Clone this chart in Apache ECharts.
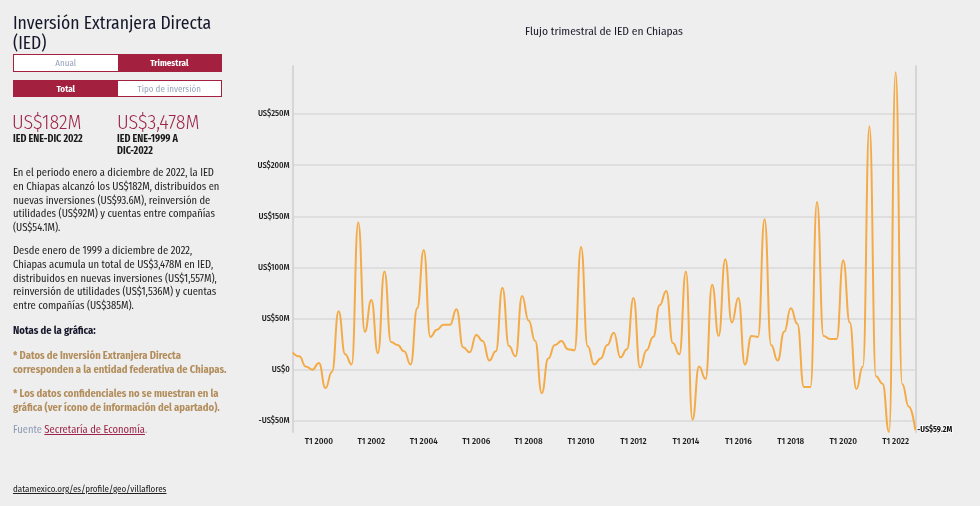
<!DOCTYPE html>
<html><head><meta charset="utf-8">
<script src="https://cdn.jsdelivr.net/npm/echarts@6/dist/echarts.min.js"></script>
<style>
html,body{margin:0;padding:0;background:#eeeeee;}
body{width:980px;height:506px;position:relative;overflow:hidden;font-family:"Fira Sans Condensed","Liberation Sans Narrow","Roboto Condensed",Roboto,sans-serif;}
#chart{position:absolute;left:0;top:0;width:980px;height:506px;}
#panel{position:absolute;left:0;top:0;width:240px;height:506px;color:#1f2430;}
.abs{position:absolute;white-space:nowrap;}
.title{left:13px;top:14px;font-size:17.6px;line-height:20px;color:#16172b;}
.btns{left:13px;width:209px;height:17px;border:1px solid #a3213f;box-sizing:border-box;display:flex;font-size:9px;font-weight:bold;}
.btns div{flex:1;display:flex;align-items:center;justify-content:center;}
.on{background:#a3213f;color:#fff;}
.off{background:#fff;color:#9aa6bd;font-weight:normal;}
.big{font-size:20px;color:#9d2449;font-weight:300;line-height:20px;}
.lab{font-size:10px;font-weight:bold;line-height:12px;color:#1b1b1b;}
.p{left:13px;font-size:10.5px;line-height:13.8px;color:#222;}
.note{left:13px;font-size:10.5px;line-height:13.8px;color:#b38e5d;font-weight:bold;}
</style></head><body>
<div id="chart"></div>
<div id="panel">
  <div class="abs title">Inversión Extranjera Directa<br>(IED)</div>
  <div class="abs btns" style="top:54px;height:18px"><div class="off">Anual</div><div class="on">Trimestral</div></div>
  <div class="abs btns" style="top:80px"><div class="on">Total</div><div class="off">Tipo de inversión</div></div>
  <div class="abs big" style="left:12px;top:112px">US$182M</div>
  <div class="abs big" style="left:117px;top:112px">US$3,478M</div>
  <div class="abs lab" style="left:13px;top:133px">IED ENE-DIC 2022</div>
  <div class="abs lab" style="left:117px;top:133px">IED ENE-1999 A<br>DIC-2022</div>
  <div class="abs p" style="top:166px">En el periodo enero a diciembre de 2022, la IED<br>en Chiapas alcanzó los US$182M, distribuidos en<br>nuevas inversiones (US$93.6M), reinversión de<br>utilidades (US$92M) y cuentas entre compañías<br>(US$54.1M).</div>
  <div class="abs p" style="top:244px">Desde enero de 1999 a diciembre de 2022,<br>Chiapas acumula un total de US$3,478M en IED,<br>distribuidos en nuevas inversiones (US$1,557M),<br>reinversión de utilidades (US$1,536M) y cuentas<br>entre compañías (US$385M).</div>
  <div class="abs p" style="top:324px;font-weight:bold;color:#16172b">Notas de la gráfica:</div>
  <div class="abs note" style="top:349px">* Datos de Inversión Extranjera Directa<br>corresponden a la entidad federativa de Chiapas.</div>
  <div class="abs note" style="top:387px">* Los datos confidenciales no se muestran en la<br>gráfica (ver ícono de información del apartado).</div>
  <div class="abs p" style="top:423px;color:#8d9bb5">Fuente <span style="color:#9d2449;text-decoration:underline">Secretaría de Economía</span>.</div>
  <div class="abs" style="left:13px;top:484px;font-size:9px;color:#222;text-decoration:underline">datamexico.org/es/profile/geo/villaflores</div>
</div>
<script>
const years = [1999,2000,2001,2002,2003,2004,2005,2006,2007,2008,2009,2010,2011,2012,2013,2014,2015,2016,2017,2018,2019,2020,2021,2022];
const quarterNames = ['T1','T2','T3','T4'];
const iedMillones = [
  17,13,3,0,6.5,-18,-2,57,15,5,144,37,68,16,96,27,24,18,5,
  60,117,32,39,44,44,59,22,17,34,28,9,18,80,23,13,72,48,28,-23,
  11,24,28,20,19,120,23,5,11,24,36,12,20,70,2,19,32,63,77,
  26,15,96,-49,3,-9,83,33,108,46,70,5,33,32,147,24,9,37,
  60,45,-17,-17,164,33,30,30,107,46,-19,3,238,-6.5,-13.7,-61,
  291,-14,-36,-59.2
];
const yTickLabels = {'-50':'-US$50M','0':'US$0','50':'US$50M','100':'US$100M','150':'US$150M','200':'US$200M','250':'US$250M'};
const chartTitle = 'Flujo trimestral de IED en Chiapas';
const lastLabel = '-US$59.2M';

const categories = [];
years.forEach(y => quarterNames.forEach(q => categories.push(q + ' ' + y)));

const font = '"Fira Sans Condensed","Liberation Sans Narrow","Roboto Condensed",Roboto,sans-serif';
const chart = echarts.init(document.getElementById('chart'), null, {renderer:'canvas'});
chart.setOption({
  backgroundColor: 'transparent',
  animation: false,
  graphic: [{type:'text', x: 604, y: 26, style:{text: chartTitle, fill:'#1b1b2b', font: '11.5px ' + font, textAlign:'center'}}],
  grid: {left: 292.7, right: 64.7, top: 66, bottom: 74, containLabel: false},
  xAxis: {
    type: 'category', data: categories, boundaryGap: false,
    axisLine: {show: false}, axisTick: {show: false}, splitLine: {show: false},
    axisLabel: {
      interval: (idx, val) => val.startsWith('T1') && (parseInt(val.slice(3)) % 2 === 0),
      color: '#1b1b1b', fontSize: 9, fontFamily: font, margin: 5, fontWeight: 500
    }
  },
  yAxis: [{
    type: 'value', min: -61, max: 297, splitNumber: 7,
    axisLine: {show: true, lineStyle: {color: '#d6d6d6', width: 2}},
    axisTick: {show: false},
    axisLabel: {showMinLabel: false, showMaxLabel: false, color: '#1b1b1b', fontSize: 8.5, fontFamily: font, margin: 3, fontWeight: 500,
      formatter: v => yTickLabels[String(v)] || ''},
    splitLine: {show: true, showMinLine: false, showMaxLine: false, lineStyle: {color: '#d9d9d9', width: 1.5}}
  }, {
    type: 'value', min: -61, max: 297, position: 'right',
    axisLine: {show: true, lineStyle: {color: '#d6d6d6', width: 2}},
    axisTick: {show: false}, axisLabel: {show: false}, splitLine: {show: false}
  }],
  series: [{
    type: 'line', data: iedMillones, yAxisIndex: 0,
    smooth: 0.5, smoothMonotone: 'x', showSymbol: false, symbol: 'none',
    lineStyle: {color: '#f4ab47', width: 2},
    endLabel: {show: true, formatter: lastLabel, color: '#111', fontSize: 8, fontWeight: 'bold', fontFamily: font, distance: 2,
      textBorderColor: '#fff', textBorderWidth: 1.5}
  }]
});
</script>
</body></html>
